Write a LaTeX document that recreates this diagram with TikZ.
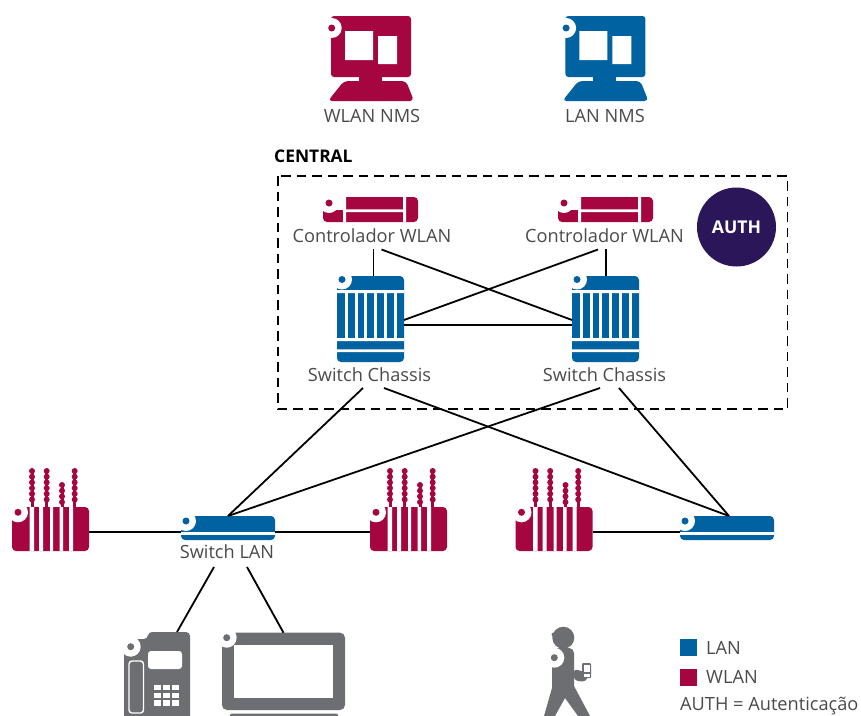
\documentclass[tikz,border=0pt]{standalone}
\usepackage{fontspec}
\setmainfont{Open Sans}
\definecolor{netred}{HTML}{A50640}
\definecolor{netblue}{HTML}{0062A0}
\definecolor{devgray}{HTML}{6D6E71}
\definecolor{authpurple}{HTML}{2B1659}
\definecolor{txt}{HTML}{4A4A4A}
\newcommand{\portmark}[3]{\fill[white] (#1,#2) circle (10); \fill[#3] (#1,#2) circle (3.5);}
\tikzset{
  lbl/.style={font=\fontsize{18.2}{20}\selectfont, text=txt, inner sep=0pt, anchor=center},
  link/.style={draw=black, line width=1.8pt},
  frame/.style={draw=black, line width=1.2pt, dash pattern=on 9.5pt off 6pt},
  pics/monitor/.style={code={
    \fill[#1, rounded corners=3] (331,16) rectangle (411,77);
    \fill[#1] (359,76) rectangle (382,82);
    \fill[#1, rounded corners=4] (328,101) -- (344,81) -- (406,81) -- (414,101) -- cycle;
    \fill[white] (345,31) rectangle (373,60) (378,36) rectangle (397,64);
    \portmark{331.7}{28}{#1}
  }},
  pics/controller/.style={code={
    \fill[#1, rounded corners=4] (323,197) rectangle (418,222);
    \fill[white] (343,197) rectangle (346,222) (403,197) rectangle (406,222) (346,209.3) rectangle (403,212);
    \portmark{329}{203}{#1}
    \fill[white] (335,197) rectangle (343,210);
  }},
  pics/chassis/.style={code={
    \fill[#1, rounded corners=4] (337,276) rectangle (404,362);
    \fill[white] (337,290) rectangle (404,293) (337,338) rectangle (404,341) (337,349.3) rectangle (404,352);
    \foreach \gx in {345.3,355,364.4,374,384,394}{\fill[white] (\gx,293) rectangle (\gx+3,338);}
    \portmark{342}{279.5}{#1}
  }},
  pics/lanswitch/.style={code={
    \fill[#1, rounded corners=4] (0,516) rectangle (94,540);
    \fill[white] (0,531.8) rectangle (94,534.5);
    \portmark{5}{521}{#1}
  }},
  pics/accesspoint/.style={code={
    \foreach \ax/\ay in {20/471,34.7/471,50/485,62.7/471}{
      \fill[#1] (\ax-1.5,\ay) rectangle (\ax+1.5,507);
      \foreach \by in {0,5.7,...,29}{
        \pgfmathsetmacro{\py}{\ay+\by}
        \pgfmathparse{\py<504?1:0}
        \ifnum\pgfmathresult=1 \fill[#1] (\ax,\py) circle (3); \fi
      }
    }
    \fill[#1, rounded corners=4] (0,507) rectangle (77,551);
    \fill[white] (17.5,505) rectangle (22,551) (27,505) rectangle (31,551) (38,505) rectangle (41,551) (47.5,505) rectangle (51,551) (57,505) rectangle (61,551);
    \foreach \ax/\ay in {20/505,34.7/505,50/505,62.7/505}{\fill[#1] (\ax-1.5,500) rectangle (\ax+1.5,507);}
    \portmark{6}{512.3}{#1}
  }}
}
\begin{document}
\begin{tikzpicture}[x=1pt,y=-1pt]
\useasboundingbox (0,0) rectangle (861,715);
\begin{scope}
\clip (0,0) rectangle (861,715);

% monitors
\pic {monitor=netred};
\begin{scope}[shift={(234.4,0)}]\pic {monitor=netblue};\end{scope}
\node[lbl] (wnms) at (372,116) {WLAN NMS};
\node[lbl] (lnms) at (605,116) {LAN NMS};

% central frame
\node[lbl, anchor=west, font=\fontsize{17.4}{20}\selectfont\bfseries, text=black] (central) at (274,156) {CENTRAL};
\draw[frame] (278,176) rectangle (787.5,409);

% controllers
\pic {controller=netred};
\begin{scope}[shift={(235,0)}]\pic {controller=netred};\end{scope}
\node[lbl] (ctrl1) at (372,236) {Controlador WLAN};
\node[lbl] (ctrl2) at (604.5,236) {Controlador WLAN};

% chassis
\pic {chassis=netblue};
\begin{scope}[shift={(235,0)}]\pic {chassis=netblue};\end{scope}
\node[lbl] (chas1) at (369.5,375) {Switch Chassis};
\node[lbl] (chas2) at (604.5,375) {Switch Chassis};

% AUTH
\node[circle, fill=authpurple, minimum size=79pt, inner sep=0pt, text=white, font=\fontsize{17.6}{20}\selectfont\bfseries] (auth) at (736.5,227) {AUTH};

% LAN switches
\begin{scope}[shift={(181,0)}]\pic {lanswitch=netblue};\end{scope}
\begin{scope}[shift={(680,0)}]\pic {lanswitch=netblue};\end{scope}
\node[lbl] (swl) at (227,552) {Switch LAN};

% access points
\begin{scope}[shift={(12,0)}]\pic {accesspoint=netred};\end{scope}
\begin{scope}[shift={(370,0)}]\pic {accesspoint=netred};\end{scope}
\begin{scope}[shift={(515.5,0)}]\pic {accesspoint=netred};\end{scope}

% phone
\fill[devgray, rounded corners=4] (124,720) -- (124,639) -- (148,639) -- (148,632) -- (190,632) -- (190,720) -- cycle;
\fill[white, rounded corners=3] (148,651) rectangle (182,669);
\foreach \kx in {154,163,172}\foreach \ky in {685,692.7,700.3}{\fill[white] (\kx,\ky) rectangle (\kx+7,\ky+5.3);}
\draw[white, line width=1.4pt, rounded corners=3] (129,661) rectangle (143.5,713);
\portmark{130.7}{646.7}{devgray}

% screen
\fill[devgray, rounded corners=5] (222,632.7) rectangle (345,710);
\fill[white] (234,645) rectangle (333,698);
\fill[devgray, rounded corners=2] (230,713.5) rectangle (338,720);
\portmark{226.7}{637.7}{devgray}

% person
\fill[devgray] (563.3,637.7) circle (11);
\fill[devgray, rounded corners=1] (551,634) -- (554,632) -- (557,640) -- (555,640) -- cycle;
\fill[devgray, rounded corners=5] (552,660) -- (552,648) -- (574,648) -- (574,692) -- (552,692) -- cycle;
\fill[devgray] (552,688) -- (574,686) -- (590,716) -- (578,716) -- (565,698) -- (555,716) -- (544,716) -- cycle;
\fill[devgray, rounded corners=3] (574,669) -- (585,672) -- (588,679) -- (583,682) -- (574,680) -- cycle;
\fill[devgray, rounded corners=1] (582,663) rectangle (591,678);
\fill[white] (583.5,665) rectangle (589.5,672);
\fill[white] (583.5,673.5) rectangle (589.5,676.5);
\portmark{554.3}{657.7}{devgray}

% legend
\fill[netblue] (680,639) rectangle (697,656);
\fill[netred] (680,669) rectangle (697,686);
\node[lbl, anchor=west] (leglan) at (706,648) {LAN};
\node[lbl, anchor=west] (legwlan) at (706,677) {WLAN};
\node[lbl, anchor=west] (legauth) at (680,706) {AUTH = Autenticação};

% connector ends
\coordinate (c1a) at (373.5,249);
\coordinate (c1b) at (381.5,249.5);
\coordinate (c2a) at (606,249);
\coordinate (c2b) at (598,249.5);
\coordinate (s1t) at (373.5,276);
\coordinate (s2t) at (606,276);
\coordinate (s1r) at (404,320);
\coordinate (s2l) at (572,320);
\coordinate (s1e) at (404,325);
\coordinate (s2w) at (572,325);
\coordinate (s1d1) at (363,388);
\coordinate (s1d2) at (384,388);
\coordinate (s2d1) at (600,388);
\coordinate (s2d2) at (619,388);
\coordinate (swlt) at (228,516);
\coordinate (swrt) at (729,516);
\coordinate (ap1e) at (89,531.8);
\coordinate (swlw) at (181,531.8);
\coordinate (swle) at (275,531.8);
\coordinate (ap2w) at (370,531.8);
\coordinate (ap3e) at (592.5,531.8);
\coordinate (swrw) at (680,531.8);
\coordinate (swld1) at (214,567);
\coordinate (swld2) at (247,567);
\coordinate (phonet) at (177,632);
\coordinate (screent) at (283.5,632.7);

\draw[link] (c1a) -- (s1t);
\draw[link] (c1b) -- (s2l);
\draw[link] (c2a) -- (s2t);
\draw[link] (c2b) -- (s1r);
\draw[link] (s1e) -- (s2w);
\draw[link] (s1d1) -- (swlt);
\draw[link] (s1d2) -- (swrt);
\draw[link] (s2d1) -- (swlt);
\draw[link] (s2d2) -- (swrt);
\draw[link] (ap1e) -- (swlw);
\draw[link] (swle) -- (ap2w);
\draw[link] (ap3e) -- (swrw);
\draw[link] (swld1) -- (phonet);
\draw[link] (swld2) -- (screent);
\end{scope}
\end{tikzpicture}
\end{document}
